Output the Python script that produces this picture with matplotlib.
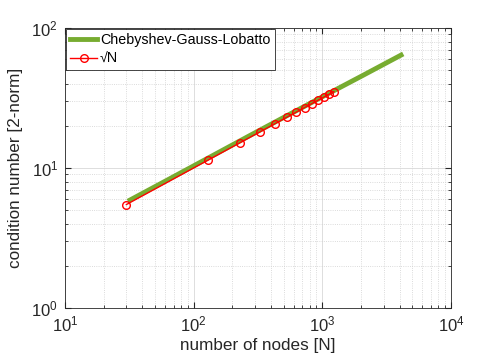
import numpy as np
import matplotlib
matplotlib.use('Agg')
import matplotlib.pyplot as plt
from matplotlib.ticker import LogLocator, NullFormatter

# Chebyshev-Gauss-Lobatto condition numbers
n_cgl = [32, 64, 128, 256, 512, 1024, 2048, 4096]
cond_cgl = [5.9, 8.3, 11.7, 16.5, 23.2, 32.6, 45.6, 64.0]

# sqrt(N) reference
n_ref = [30, 130, 230, 330, 430, 530, 630, 730, 830, 930, 1030, 1130, 1230]
sqrt_ref = [5.48, 11.40, 15.17, 18.17, 20.74, 23.02, 25.10, 27.02, 28.81, 30.50, 32.09, 33.62, 35.07]

plt.rcParams['font.family'] = ['Liberation Sans', 'DejaVu Sans']

fig = plt.figure(figsize=(4.98, 3.6), dpi=100)
ax = fig.add_axes([0.1305, 0.1444, 0.775, 0.778])

ax.loglog(n_cgl, cond_cgl, color='#77AC30', linewidth=3.5, label='Chebyshev-Gauss-Lobatto')
ax.loglog(n_ref, sqrt_ref, 'r-o', linewidth=1, markersize=5.5, markerfacecolor='none',
          markeredgewidth=1, label='√N')

ax.set_xlim(10, 1e4)
ax.set_ylim(1, 100)
ax.xaxis.set_major_locator(LogLocator(base=10, numticks=10))
ax.yaxis.set_major_locator(LogLocator(base=10, numticks=10))
ax.xaxis.set_minor_locator(LogLocator(base=10, subs=np.arange(2, 10), numticks=20))
ax.yaxis.set_minor_locator(LogLocator(base=10, subs=np.arange(2, 10), numticks=20))
ax.xaxis.set_minor_formatter(NullFormatter())
ax.yaxis.set_minor_formatter(NullFormatter())

ax.grid(True, which='major', color='#d8d8d8', linestyle='-', linewidth=0.6)
ax.grid(True, which='minor', color='#cfcfcf', linestyle=':', linewidth=0.6)
ax.set_axisbelow(True)

ax.tick_params(which='both', direction='in', top=True, right=True, colors='#262626',
               labelsize=12)
ax.tick_params(which='major', length=4, pad=5)
ax.tick_params(which='minor', length=2)
for s in ax.spines.values():
    s.set_color('#262626')
    s.set_linewidth(0.6)

ax.set_xlabel('number of nodes [N]', fontsize=12.3, color='#262626', labelpad=2)
ax.set_ylabel('condition number [2-norm]', fontsize=12.3, color='#262626', labelpad=6)

leg = ax.legend(loc='upper left', fontsize=10.3, fancybox=False, framealpha=1,
                edgecolor='#262626', borderaxespad=0.05, handlelength=1.9,
                borderpad=0.3, labelspacing=0.35, handletextpad=0.2)
leg.get_frame().set_linewidth(0.6)

fig.savefig('out.png', dpi=100)
